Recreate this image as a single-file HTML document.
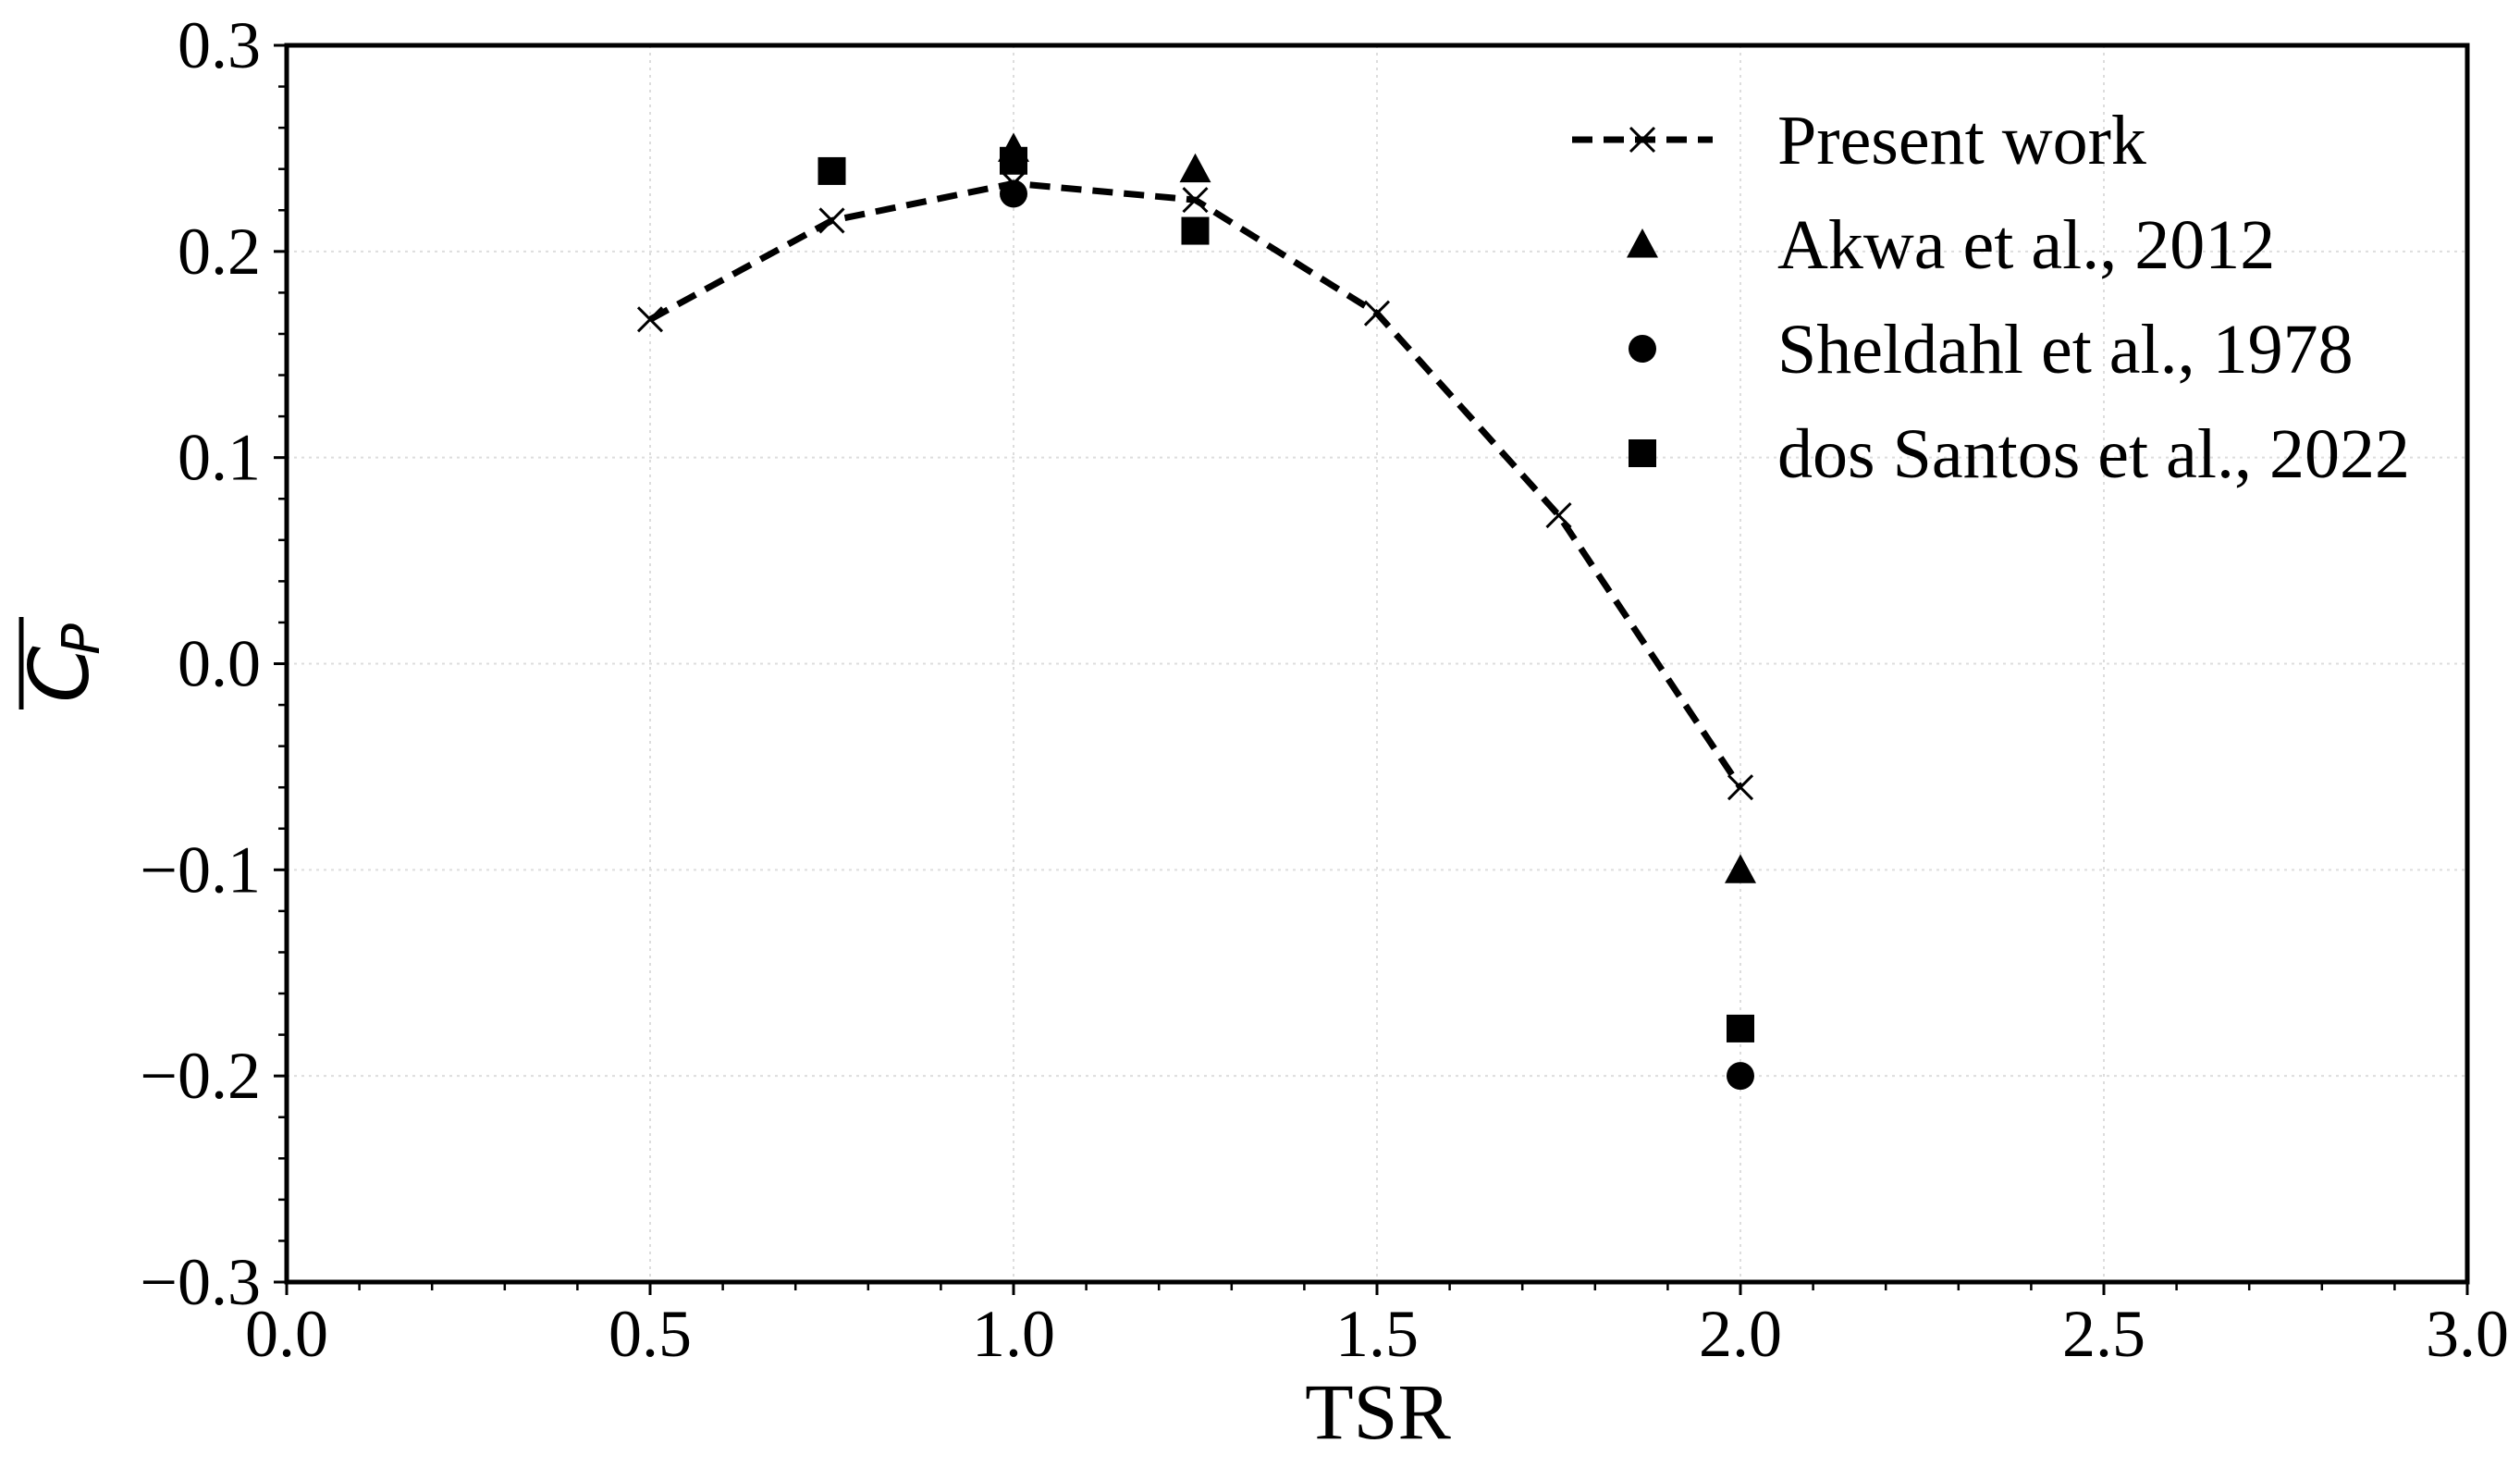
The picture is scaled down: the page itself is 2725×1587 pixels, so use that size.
<!DOCTYPE html>
<html><head><meta charset="utf-8"><style>
html,body{margin:0;padding:0;background:#fff;}
svg{display:block;}
text{font-family:"Liberation Serif",serif;fill:#000;}
</style></head><body>
<svg id="chart" width="2725" height="1587" viewBox="0 0 2725 1587" xmlns="http://www.w3.org/2000/svg">
<g id="grid"></g>
<g id="axes"></g>
<g id="series"></g>
<g id="legend"></g>
<text x="1490" y="1555" font-size="86" text-anchor="middle">TSR</text>
<g transform="translate(95,717) rotate(-90)">
  <line x1="-50" y1="-72" x2="50" y2="-72" stroke="#000" stroke-width="5"/>
  <text x="-12" y="0" font-size="88" text-anchor="middle" font-style="italic" style="font-family:'DejaVu Sans',sans-serif">C</text>
  <text x="26" y="12" font-size="56" text-anchor="middle" font-style="italic" style="font-family:'DejaVu Sans',sans-serif">P</text>
</g>
</svg>
<script>
const presentX=[0.5,0.75,1.0,1.25,1.5,1.75,2.0];
const presentY=[0.167,0.215,0.233,0.225,0.170,0.072,-0.060];
const akwaX=[1.0,1.25,2.0];
const akwaY=[0.250,0.240,-0.100];
const sheldahlX=[1.0,2.0];
const sheldahlY=[0.228,-0.200];
const santosX=[0.75,1.0,1.25,2.0];
const santosY=[0.239,0.244,0.210,-0.177];
const xTicks=[0,0.5,1.0,1.5,2.0,2.5,3.0];
const xTickLabels=["0.0","0.5","1.0","1.5","2.0","2.5","3.0"];
const yTicks=[0.3,0.2,0.1,0.0,-0.1,-0.2,-0.3];
const yTickLabels=["0.3","0.2","0.1","0.0","\u22120.1","\u22120.2","\u22120.3"];
const legendLabels=["Present work","Akwa et al., 2012","Sheldahl et al., 1978","dos Santos et al., 2022"];

const NS="http://www.w3.org/2000/svg";
const L=310,R=2668,T=49,B=1386;
const X=v=>L+(v-0)/(3-0)*(R-L);
const Y=v=>B-(v+0.3)/0.6*(B-T);
function mk(tag,attrs,parent){const e=document.createElementNS(NS,tag);for(const k in attrs)e.setAttribute(k,attrs[k]);parent.appendChild(e);return e;}
const grid=document.getElementById('grid'),axes=document.getElementById('axes'),series=document.getElementById('series'),legend=document.getElementById('legend');

xTicks.forEach((v,i)=>{
  if(i>0&&i<xTicks.length-1){const g=mk('line',{x1:X(v),x2:X(v),y1:T,y2:B,stroke:'#ddd','stroke-width':2,'stroke-dasharray':'3 5'},grid);
  
  }
  const t=mk('line',{x1:X(v),x2:X(v),y1:B,y2:B+14,stroke:'#000','stroke-width':3},axes);
  
  
  const lb=mk('text',{x:X(v),y:B+80,'font-size':72,'text-anchor':'middle'},axes);lb.textContent=xTickLabels[i];
  
  
});
for(let k=1;k<30;k++){if(k%5===0)continue;const v=k*0.1;
  const t=mk('line',{x1:X(v),x2:X(v),y1:B,y2:B+9,stroke:'#000','stroke-width':2.5},axes);
  
  }
yTicks.forEach((v,i)=>{
  if(i>0&&i<yTicks.length-1){const g=mk('line',{x1:L,x2:R,y1:Y(v),y2:Y(v),stroke:'#ddd','stroke-width':2,'stroke-dasharray':'3 5'},grid);
  
  }
  const t=mk('line',{x1:L-14,x2:L,y1:Y(v),y2:Y(v),stroke:'#000','stroke-width':3},axes);
  
  
  const lb=mk('text',{x:L-28,y:Y(v)+24,'font-size':72,'text-anchor':'end'},axes);lb.textContent=yTickLabels[i];
  
  
});
for(let k=1;k<30;k++){if(k%5===0)continue;const v=-0.3+k*0.02;
  const t=mk('line',{x1:L-9,x2:L,y1:Y(v),y2:Y(v),stroke:'#000','stroke-width':2.5},axes);
  
  }
const frame=mk('rect',{x:L,y:T,width:R-L,height:B-T,fill:'none',stroke:'#000','stroke-width':5},axes);



function cross(cx,cy,p){const s=13;const g=mk('path',{d:`M${cx-s},${cy-s}L${cx+s},${cy+s}M${cx-s},${cy+s}L${cx+s},${cy-s}`,stroke:'#000','stroke-width':3,fill:'none'},p);return g;}
function tri(cx,cy,p){const s=17;return mk('path',{d:`M${cx},${cy-s}L${cx+s},${cy+s*0.85}L${cx-s},${cy+s*0.85}Z`,fill:'#000'},p);}
function circ(cx,cy,p){return mk('circle',{cx:cx,cy:cy,r:15,fill:'#000'},p);}
function sq(cx,cy,p){return mk('rect',{x:cx-15,y:cy-15,width:30,height:30,fill:'#000'},p);}

const line=mk('polyline',{points:presentX.map((x,i)=>X(x)+','+Y(presentY[i])).join(' '),fill:'none',stroke:'#000','stroke-width':7,'stroke-dasharray':'22 12'},series);


presentX.forEach((x,i)=>{const m=cross(X(x),Y(presentY[i]),series);
  
  });
akwaX.forEach((x,i)=>{const m=tri(X(x),Y(akwaY[i]),series);
  
  });
sheldahlX.forEach((x,i)=>{const m=circ(X(x),Y(sheldahlY[i]),series);
  
  });
santosX.forEach((x,i)=>{const m=sq(X(x),Y(santosY[i]),series);
  
  });

const rows=[151,264,377,490];
const lmx=1776;
const ll=mk('line',{x1:1700,x2:1852,y1:rows[0],y2:rows[0],stroke:'#000','stroke-width':7,'stroke-dasharray':'22 12'},legend);


const m0=cross(lmx,rows[0],legend);
const m1=tri(lmx,rows[1],legend);
const m2=circ(lmx,rows[2],legend);
const m3=sq(lmx,rows[3],legend);
legendLabels.forEach((s,i)=>{const t=mk('text',{x:1922,y:rows[i]+26,'font-size':76},legend);t.textContent=s;
  
  });
</script>
</body></html>
